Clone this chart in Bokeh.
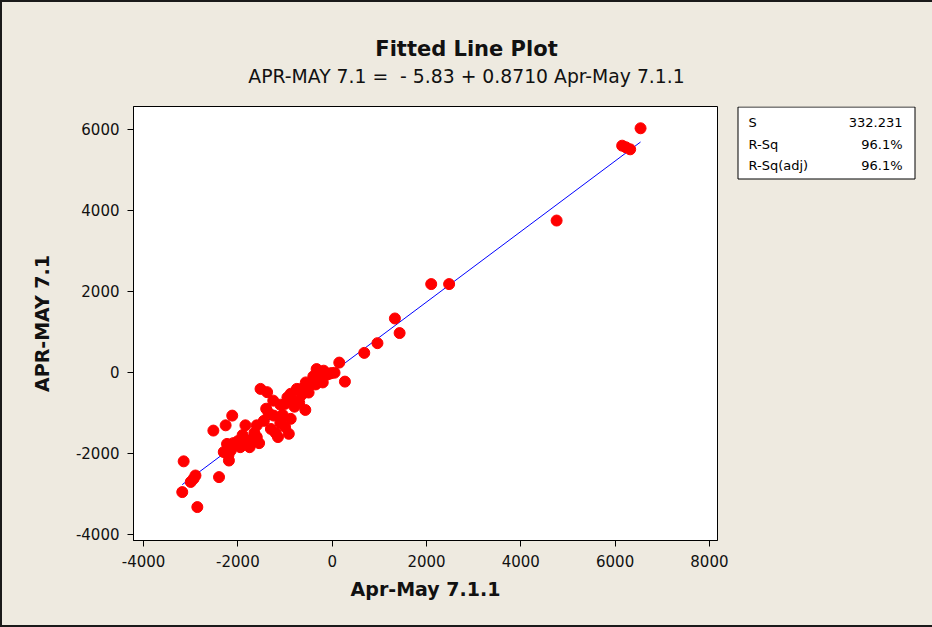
from bokeh.plotting import figure
from bokeh.models import Range1d, FixedTicker
from bokeh.layouts import column, row
from bokeh.embed import file_html
from bokeh.resources import INLINE

# ---- data ----
x_vals = [6540, 6150, 6230, 6320, 4760, 2100, 2480, 1330, 1430, 960, 680, 150, 270,
          -330, -180, -70, -250, -120, -20, 50, -400, -450, -560, -600, -700, -750,
          -880, -950, -820, -1000, -1100, -570, -650, -500, -350, -300, -200, -880,
          -920, -1240, -1100, -1300, -1200, -1050, -1380, -1520, -1400, -1350, -1250,
          -1450, -1600, -1650, -1700, -1800, -1840, -1900, -2000, -2120, -2100, -2150,
          -2190, -2230, -2260, -2300, -2400, -2520, -2200, -1550, -1750, -1950, -800,
          -700, -1000, -1150, -1600, -2900, -2940, -3000, -3150, -3180, -2860]
y_vals = [6030, 5600, 5560, 5510, 3750, 2180, 2180, 1330, 970, 720, 480, 240, -230,
          80, 40, -40, 0, -60, -20, -10, -100, -300, -250, -380, -420, -410,
          -530, -620, -700, -780, -800, -930, -560, -500, -300, -120, -250, -1150,
          -1520, -1070, -1250, -1400, -1500, -1050, -490, -410, -900, -1000, -700,
          -1200, -1310, -1500, -1680, -1690, -1310, -1550, -1700, -1070, -1750, -1930,
          -2180, -1770, -1310, -1970, -2590, -1440, -2050, -1750, -1850, -1850, -850,
          -750, -1350, -1600, -1600, -2550, -2630, -2710, -2200, -2960, -3330]
intercept = -5.83
slope = 0.8710
x_ticks = [-4000, -2000, 0, 2000, 4000, 6000, 8000]
y_ticks = [-4000, -2000, 0, 2000, 4000, 6000]
stat_names = ["S", "R-Sq", "R-Sq(adj)"]
stat_values = ["332.231", "96.1%", "96.1%"]
title_text = "Fitted Line Plot"
subtitle_text = "APR-MAY 7.1 = \u00a0- 5.83 + 0.8710 Apr-May 7.1.1"
x_label = "Apr-May 7.1.1"
y_label = "APR-MAY 7.1"

BG = "#EEEAE0"
EDGE = "#1a1a1a"
FONT = "DejaVu Sans"
W, H = 932, 627              # page
OX, OY, OB = 2, 2, 2         # outer border widths (left, top, bottom)
CW, CH = W - OX, H - OY - OB  # content size
TOP_Y = 100                  # page y where the title strip ends
FL, FR, FT, FB = 133, 717, 106, 540  # main frame edges (page pixels)
SPLIT = 732                  # page x where the stats panel starts


def bare(fig):
    fig.axis.visible = False
    fig.xgrid.visible = False
    fig.ygrid.visible = False
    fig.border_fill_color = BG
    fig.background_fill_color = BG
    fig.outline_line_color = None


# ---- title strip (data coords = page pixels) ----
t = figure(width=CW, height=TOP_Y - OY, output_backend="svg", toolbar_location=None,
           x_range=Range1d(OX, W), y_range=Range1d(TOP_Y, OY),
           min_border=0, min_border_left=0, min_border_right=0,
           min_border_top=0, min_border_bottom=0)
bare(t)
t.text(x=[W / 2], y=[48], text=[title_text], text_align="center",
       text_baseline="middle", text_font={"value": FONT}, text_font_style="bold",
       text_font_size="21px", text_color="#111111")
t.text(x=[W / 2], y=[76], text=[subtitle_text], text_align="center",
       text_baseline="middle", text_font={"value": FONT},
       text_font_size="18.8px", text_color="#111111")

# ---- main plot ----
main_h = H - OB - TOP_Y
p = figure(width=SPLIT - OX, height=main_h, output_backend="svg", toolbar_location=None,
           x_range=Range1d(-4214, 8172), y_range=Range1d(-4156, 6568),
           min_border_left=FL - OX, min_border_right=SPLIT - FR,
           min_border_top=FT - TOP_Y, min_border_bottom=H - OB - FB)
p.background_fill_color = "white"
p.border_fill_color = BG
p.outline_line_color = "black"
p.outline_line_width = 1
p.xgrid.visible = False
p.ygrid.visible = False

for ax in (p.xaxis[0], p.yaxis[0]):
    ax.axis_line_color = "black"
    ax.major_tick_line_color = "black"
    ax.major_tick_out = 6
    ax.major_tick_in = 0
    ax.minor_tick_line_color = None
    ax.major_label_text_font = FONT
    ax.major_label_text_font_size = "15px"
    ax.major_label_text_color = "#111111"
    ax.axis_label_text_font = FONT
    ax.axis_label_text_font_style = "bold"
    ax.axis_label_text_font_size = "19px"
    ax.axis_label_text_color = "#111111"

p.xaxis.ticker = FixedTicker(ticks=x_ticks)
p.yaxis.ticker = FixedTicker(ticks=y_ticks)
p.xaxis.major_label_overrides = {v: str(v) for v in x_ticks}
p.yaxis.major_label_overrides = {v: str(v) for v in y_ticks}
p.xaxis.axis_label = x_label
p.yaxis.axis_label = y_label
p.xaxis.major_label_standoff = 8
p.yaxis.major_label_standoff = 8
p.xaxis.axis_label_standoff = 8
p.yaxis.axis_label_standoff = 20

x_line = [min(x_vals), max(x_vals)]
y_line = [intercept + slope * v for v in x_line]
p.line(x_line, y_line, line_color="#0000FF", line_width=1)
p.scatter(x_vals, y_vals, size=11, fill_color="#FF0000", line_color="#FF0000")

# ---- stats box panel (same top/bottom borders as the main plot) ----
s = figure(width=W - SPLIT, height=main_h, output_backend="svg", toolbar_location=None,
           x_range=Range1d(SPLIT, W), y_range=Range1d(FB, FT),
           min_border_left=0, min_border_right=0,
           min_border_top=FT - TOP_Y, min_border_bottom=H - OB - FB)
bare(s)
s.quad(left=[737.5], right=[914.5], top=[106.5], bottom=[178.5],
       fill_color="white", line_color="black", line_width=1)
row_y = [121.5, 143.5, 165]
s.text(x=[748] * 3, y=row_y, text=stat_names, text_align="left",
       text_baseline="middle", text_font={"value": FONT}, text_font_size="13px",
       text_color="black")
s.text(x=[902] * 3, y=row_y, text=stat_values, text_align="right",
       text_baseline="middle", text_font={"value": FONT}, text_font_size="13px",
       text_color="black")

layout = column(t, row(p, s, spacing=0), spacing=0)
layout.styles = {"background-color": BG,
                 "border-left": f"{OX}px solid {EDGE}",
                 "border-top": f"{OY}px solid {EDGE}",
                 "border-bottom": f"{OB}px solid {EDGE}"}

open("out.html", "w").write(file_html(layout, INLINE))
